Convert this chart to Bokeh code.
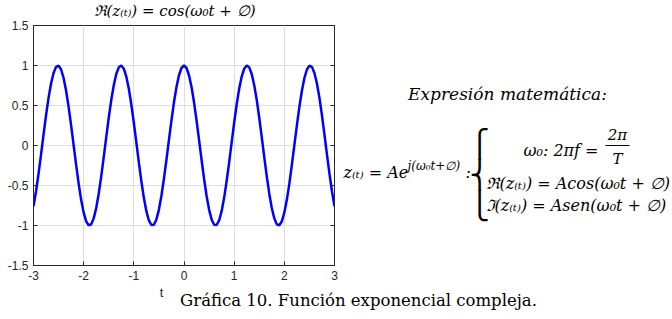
from bokeh.plotting import figure
from bokeh.models import LinearAxis, FixedTicker, Range1d, NumeralTickFormatter, Plot
from bokeh.core.properties import value
from bokeh.layouts import column, row
from bokeh.embed import file_html
from bokeh.resources import INLINE

T_HALF = [0.00, 0.05, 0.10, 0.15, 0.20, 0.25, 0.30, 0.35, 0.40, 0.45,
          0.50, 0.55, 0.60, 0.65, 0.70, 0.75, 0.80, 0.85, 0.90, 0.95,
          1.00, 1.05, 1.10, 1.15, 1.20, 1.25, 1.30, 1.35, 1.40, 1.45,
          1.50, 1.55, 1.60, 1.65, 1.70, 1.75, 1.80, 1.85, 1.90, 1.95,
          2.00, 2.05, 2.10, 2.15, 2.20, 2.25, 2.30, 2.35, 2.40, 2.45,
          2.50, 2.55, 2.60, 2.65, 2.70, 2.75, 2.80, 2.85, 2.90, 2.95,
          3.00]
Y_HALF = [1.000, 0.969, 0.878, 0.732, 0.540, 0.315, 0.071, -0.178, -0.416, -0.628,
          -0.801, -0.924, -0.990, -0.994, -0.937, -0.821, -0.654, -0.446, -0.211, 0.038,
          0.284, 0.512, 0.709, 0.861, 0.960, 0.999, 0.977, 0.893, 0.754, 0.569,
          0.347, 0.104, -0.146, -0.386, -0.602, -0.781, -0.911, -0.985, -0.997, -0.948,
          -0.839, -0.679, -0.476, -0.243, 0.004, 0.252, 0.483, 0.685, 0.844, 0.950,
          0.998, 0.983, 0.907, 0.775, 0.595, 0.378, 0.137, -0.113, -0.355, -0.575,
          -0.760]
# the curve is even in t: mirror the half read above
t_vals = [-v for v in T_HALF[:0:-1]] + T_HALF
y_vals = Y_HALF[:0:-1] + Y_HALF

X_TICKS = [-3, -2, -1, 0, 1, 2, 3]
Y_TICKS = [-1.5, -1, -0.5, 0, 0.5, 1, 1.5]

TITLE = "ℜ(z₍ₜ₎) = cos(ω₀t + ∅)"
X_LABEL = "t"
CAPTION = "Gráfica 10. Función exponencial compleja."
HEADING = "Expresión matemática:"
EQ_MAIN = "z₍ₜ₎ = Ae"
EQ_SUP = "j(ω₀t+∅)"
EQ_W0 = "ω₀: 2πf ="
EQ_NUM = "2π"
EQ_DEN = "T"
EQ_RE = "ℜ(z₍ₜ₎) = Acos(ω₀t + ∅)"
EQ_IM = "ℑ(z₍ₜ₎) = Asen(ω₀t + ∅)"
BRACE = ["⎧", "⎨", "⎩"]

# ---- page layout (pixels) ----
W, H = 672, 319
TOP_H = 19          # strip holding the title
MID_H = 267         # chart + equations
MAIN_W = 338
AX = "#262626"
MATH = "DejaVu Serif"

HAS_FRAME_ALIGN = "frame_align" in Plot.properties()


def no_align(f):
    if HAS_FRAME_ALIGN:
        f.frame_align = False
    return f


def text_panel(x0, x1, y0, y1):
    f = figure(width=x1 - x0, height=y1 - y0, title=None,
               x_range=Range1d(x0, x1), y_range=Range1d(y1, y0),
               x_axis_type=None, y_axis_type=None,
               output_backend="svg", toolbar_location=None,
               min_border=0, min_border_left=0, min_border_right=0,
               min_border_top=0, min_border_bottom=0)
    f.outline_line_color = None
    f.xgrid.visible = False
    f.ygrid.visible = False
    f.background_fill_color = "white"
    f.border_fill_color = "white"
    return no_align(f)


def lab(f, text, px, py, size, font=MATH, style="italic", align="left", color="black"):
    f.text(x=[px], y=[py], text=[text], text_font=value(font),
           text_font_size=value(size), text_font_style=style,
           text_align=align, text_baseline="middle", text_color=color)


# ---- main chart ----
p = figure(width=MAIN_W, height=MID_H, title=None,
           x_range=Range1d(-3, 3), y_range=Range1d(-1.5, 1.5),
           output_backend="svg", toolbar_location=None,
           min_border_left=33, min_border_right=4,
           min_border_top=6, min_border_bottom=21)
no_align(p)
p.background_fill_color = "white"
p.border_fill_color = "white"
p.outline_line_color = AX
p.outline_line_width = 1

p.xaxis.ticker = FixedTicker(ticks=X_TICKS)
p.yaxis.ticker = FixedTicker(ticks=Y_TICKS)
p.xaxis.formatter = NumeralTickFormatter(format="0")
p.yaxis.formatter = NumeralTickFormatter(format="0.[0]")
for ax in (p.xaxis, p.yaxis):
    ax.major_tick_in = 4
    ax.major_tick_out = 0
    ax.minor_tick_line_color = None
    ax.axis_line_color = AX
    ax.major_tick_line_color = AX
    ax.major_label_text_font = "Liberation Sans"
    ax.major_label_text_font_size = "12px"
    ax.major_label_text_color = AX
    ax.major_label_standoff = 5

right = LinearAxis(ticker=FixedTicker(ticks=Y_TICKS), major_tick_in=4, major_tick_out=0,
                   minor_tick_line_color=None, axis_line_color=AX, major_tick_line_color=AX,
                   major_label_text_font_size="0px", major_label_standoff=0)
p.add_layout(right, "right")

p.xgrid.grid_line_color = "#dedede"
p.ygrid.grid_line_color = "#dedede"

p.line(t_vals, y_vals, line_color="#0000ff", line_width=2.5)

# ---- title strip ----
top = text_panel(0, W, 0, TOP_H)
lab(top, TITLE, 174, 10, "15px", align="center")

# ---- equations beside the chart ----
side = text_panel(MAIN_W, W, TOP_H, TOP_H + MID_H)
lab(side, HEADING, 507, 93, "17px", align="center")
lab(side, EQ_MAIN, 343, 172, "16px")
lab(side, EQ_SUP, 407, 165, "12px")
lab(side, ":", 465, 172, "16px")
for i, piece in enumerate(BRACE):
    lab(side, piece, 479, 143 + 31 * i, "27px", font="DejaVu Sans", style="normal", align="center")
lab(side, EQ_W0, 598, 150, "16px", align="right")
lab(side, EQ_NUM, 617, 134, "15px", align="center")
lab(side, "——", 617, 144, "12px", font="Liberation Sans", style="normal", align="center")
lab(side, EQ_DEN, 617, 158, "15px", align="center")
lab(side, EQ_RE, 485, 183, "16px")
lab(side, EQ_IM, 485, 205, "16px")

# ---- bottom strip: x label and caption ----
bot = text_panel(0, W, TOP_H + MID_H, H)
lab(bot, X_LABEL, 161, 292, "13px", font="Liberation Sans", style="normal", align="center", color=AX)
lab(bot, CAPTION, 358, 300, "16.5px", style="normal", align="center")

page = column(top, row(p, side), bot)
open("out.html", "w").write(file_html(page, INLINE))
